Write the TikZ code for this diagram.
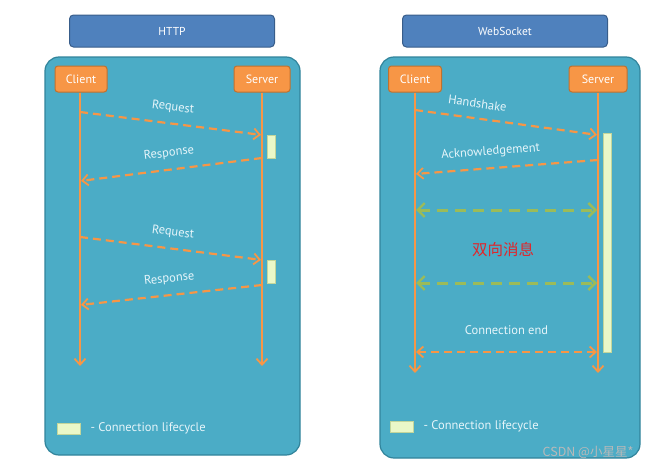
\documentclass[tikz,border=0pt]{standalone}
\usepackage{fontspec}
\setmainfont{PT Sans}
\newfontfamily\cjk{Noto Sans CJK SC}
\usetikzlibrary{arrows.meta,calc}

\definecolor{panelblue}{HTML}{4BACC6}
\definecolor{paneledge}{HTML}{31849B}
\definecolor{titleblue}{HTML}{4F81BD}
\definecolor{titleedge}{HTML}{385D8A}
\definecolor{msgorange}{HTML}{F79646}
\definecolor{orangeedge}{HTML}{C0712E}
\definecolor{msggreen}{HTML}{9BBB59}
\definecolor{barfill}{HTML}{EAF8C8}
\definecolor{labelwhite}{HTML}{E6F5FA}
\definecolor{msgred}{HTML}{E0262B}

\tikzset{
  panel/.style={draw=paneledge, line width=1.2pt, fill=panelblue, rounded corners=14pt},
  titlebox/.style={draw=titleedge, line width=1pt, fill=titleblue, rounded corners=4pt,
    text=white, minimum width=205pt, minimum height=32pt, font=\fontsize{11.5}{13}\selectfont},
  actor/.style={draw=orangeedge, fill=msgorange, line width=1pt, rounded corners=3pt,
    text=white, minimum height=26pt, font=\fontsize{12}{13}\selectfont},
  barb/.tip={Straight Barb[length=6pt,width=11pt,line width=1.8pt]},
  bigbarb/.tip={Straight Barb[length=7pt,width=14pt,line width=2.4pt]},
  life/.style={msgorange, line width=1.8pt, -barb},
  msg/.style={msgorange, line width=2.2pt, dash pattern=on 8pt off 5pt, -barb, shorten >=1pt},
  duplex/.style={msggreen, line width=3pt, dash pattern=on 11pt off 7pt, bigbarb-bigbarb, shorten >=1pt, shorten <=1pt},
  lifebar/.style={draw=msggreen!60, fill=barfill, line width=.5pt, inner sep=0pt, anchor=north west},
  lbl/.style={text=labelwhite, sloped, above=6pt, font=\fontsize{12.5}{14}\selectfont},
}

\begin{document}
\begin{tikzpicture}[x=1pt, y=-1pt]
\useasboundingbox (0,0) rectangle (657,471);

% panels and titles
\draw [panel] (45,57) rectangle (300,455);
\draw [panel] (380,57) rectangle (640,458);
\node [titlebox] (httptitle) at (172,31) {HTTP};
\node [titlebox] (wstitle) at (505,31) {WebSocket};

% ---- HTTP ----
\node [actor, minimum width=52pt] (hclient) at (81,79) {Client};
\node [actor, minimum width=56pt] (hserver) at (262,79) {Server};
\coordinate (hclientend) at (80,366);
\coordinate (hserverend) at (262,366);
\draw [life] (hclient.south -| hclientend) -- (hclientend);
\draw [life] (hserver.south) -- (hserverend);

\coordinate (hc1) at (80,112);  \coordinate (hs1) at (262,135);
\coordinate (hs2) at (262,158); \coordinate (hc2) at (80,181);
\coordinate (hc3) at (80,237);  \coordinate (hs3) at (262,260);
\coordinate (hs4) at (262,285); \coordinate (hc4) at (80,305);
\draw [msg] (hc1) -- node [lbl] {Request} (hs1);
\draw [msg] (hs2) -- node [lbl] {Response} (hc2);
\draw [msg] (hc3) -- node [lbl] {Request} (hs3);
\draw [msg] (hs4) -- node [lbl] {Response} (hc4);

\node [lifebar, minimum width=8pt, minimum height=23pt] (hbar1) at (267,135) {};
\node [lifebar, minimum width=8pt, minimum height=23pt] (hbar2) at (267,260) {};

\node [lifebar, minimum width=23pt, minimum height=11pt] (hkey) at (57,423) {};
\node [right, text=labelwhite, font=\fontsize{12.5}{14}\selectfont] (hkeytext) at (87,428) {- Connection lifecycle};

% ---- WebSocket ----
\node [actor, minimum width=53pt] (wclient) at (415,79) {Client};
\node [actor, minimum width=58pt] (wserver) at (598,79) {Server};
\coordinate (wclientend) at (415,373);
\coordinate (wserverend) at (598,373);
\draw [life] (wclient.south) -- (wclientend);
\draw [life] (wserver.south) -- (wserverend);

\node [lifebar, minimum width=8pt, minimum height=219pt] (wbar) at (603,133) {};

\coordinate (wc1) at (415,110); \coordinate (ws1) at (598,135);
\coordinate (ws2) at (598,160); \coordinate (wc2) at (415,174);
\coordinate (wc3) at (415,210); \coordinate (ws3) at (598,210);
\coordinate (wc4) at (415,283); \coordinate (ws4) at (598,283);
\coordinate (wc5) at (415,352); \coordinate (ws5) at (598,352);
\draw [msg] (wc1) -- node [lbl, pos=.33] {Handshake} (ws1);
\draw [msg] (ws2) -- node [lbl, pos=.58] {Acknowledgement} (wc2);
\draw [duplex] (wc3) -- (ws3);
\draw [duplex] (wc4) -- (ws4);
\draw [msg, barb-barb, shorten <=1pt] (wc5) -- node [lbl, above=7pt] {Connection end} (ws5);

\node [text=msgred, font=\cjk\fontsize{15.5}{18}\selectfont] (duplexmsg) at (503,250) {双向消息};

\node [lifebar, minimum width=23pt, minimum height=11pt] (wkey) at (390,421) {};
\node [right, text=labelwhite, font=\fontsize{12.5}{14}\selectfont] (wkeytext) at (420,426) {- Connection lifecycle};

\node [text=gray!55, font=\cjk\fontsize{12.5}{14}\selectfont] (mark) at (588,452) {CSDN @小星星*};
\end{tikzpicture}
\end{document}
